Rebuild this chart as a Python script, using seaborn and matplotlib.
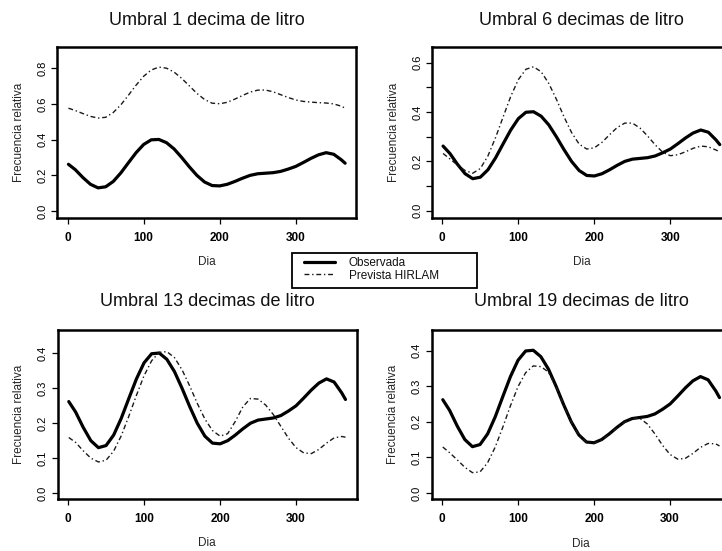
import numpy as np
import pandas as pd
import seaborn as sns
import matplotlib.pyplot as plt
import matplotlib.patches as patches

# dia del anio y frecuencias relativas
dias = [1, 10, 20, 30, 40, 50, 60, 70, 80, 90, 100, 110, 120, 130, 140,
        150, 160, 170, 180, 190, 200, 210, 220, 230, 240, 250, 260, 270,
        280, 290, 300, 310, 320, 330, 340, 350, 360, 365]

observada = [0.262, 0.232, 0.188, 0.150, 0.130, 0.136, 0.166, 0.214, 0.271,
             0.327, 0.373, 0.399, 0.401, 0.383, 0.348, 0.300, 0.248, 0.200,
             0.163, 0.143, 0.141, 0.150, 0.166, 0.184, 0.200, 0.209, 0.212,
             0.215, 0.222, 0.235, 0.250, 0.272, 0.295, 0.315, 0.327, 0.318,
             0.287, 0.268]

prevista_1 = [0.576, 0.563, 0.546, 0.530, 0.521, 0.525, 0.552, 0.595, 0.649,
              0.705, 0.755, 0.790, 0.806, 0.800, 0.778, 0.743, 0.701, 0.659,
              0.625, 0.604, 0.601, 0.609, 0.627, 0.647, 0.666, 0.677, 0.678,
              0.668, 0.652, 0.636, 0.622, 0.614, 0.610, 0.607, 0.605, 0.600,
              0.587, 0.576]

prevista_6 = [0.232, 0.210, 0.185, 0.163, 0.152, 0.171, 0.222, 0.296, 0.380,
              0.463, 0.531, 0.573, 0.583, 0.563, 0.516, 0.452, 0.381, 0.317,
              0.270, 0.250, 0.255, 0.277, 0.308, 0.337, 0.355, 0.355, 0.335,
              0.303, 0.267, 0.237, 0.223, 0.227, 0.239, 0.253, 0.262, 0.259,
              0.246, 0.239]

prevista_13 = [0.159, 0.145, 0.121, 0.100, 0.089, 0.094, 0.120, 0.164, 0.220,
               0.280, 0.336, 0.379, 0.403, 0.405, 0.388, 0.353, 0.307, 0.257,
               0.212, 0.179, 0.163, 0.170, 0.205, 0.247, 0.271, 0.269, 0.252,
               0.225, 0.191, 0.157, 0.130, 0.115, 0.113, 0.125, 0.143, 0.158,
               0.162, 0.160]

prevista_19 = [0.129, 0.113, 0.093, 0.072, 0.057, 0.059, 0.085, 0.129, 0.185,
               0.245, 0.299, 0.338, 0.357, 0.355, 0.340, 0.298, 0.247, 0.200,
               0.163, 0.142, 0.139, 0.149, 0.165, 0.183, 0.199, 0.209, 0.210,
               0.194, 0.166, 0.134, 0.108, 0.095, 0.097, 0.111, 0.128, 0.139,
               0.138, 0.132]

titulos = ["Umbral 1 decima de litro", "Umbral 6 decimas de litro",
           "Umbral 13 decimas de litro", "Umbral 19 decimas de litro"]
previstas = [prevista_1, prevista_6, prevista_13, prevista_19]

xticks = [0, 100, 200, 300]
yticks = [[0.0, 0.2, 0.4, 0.6, 0.8],
          [0.0, 0.1, 0.2, 0.3, 0.4, 0.5, 0.6],
          [0.0, 0.1, 0.2, 0.3, 0.4],
          [0.0, 0.1, 0.2, 0.3, 0.4]]
ytick_labels = [["0.0", "0.2", "0.4", "0.6", "0.8"],
                ["0.0", "", "0.2", "", "0.4", "", "0.6"],
                ["0.0", "0.1", "0.2", "0.3", "0.4"],
                ["0.0", "0.1", "0.2", "0.3", "0.4"]]
ylims = [(-0.037, 0.917), (-0.028, 0.662), (-0.017, 0.467), (-0.018, 0.458)]
nombres = ["Observada", "Prevista HIRLAM"]

sns.set_theme(style="ticks")
plt.rcParams['font.family'] = ['Liberation Sans', 'DejaVu Sans']
plt.rcParams['axes.edgecolor'] = 'black'
plt.rcParams['xtick.color'] = 'black'
plt.rcParams['ytick.color'] = 'black'
plt.rcParams['text.color'] = '#111111'

fig = plt.figure(figsize=(7.22, 5.51), dpi=100)
posiciones = [[0.0794, 0.6049, 0.414, 0.3093],
              [0.5983, 0.6049, 0.414, 0.3093],
              [0.0799, 0.0944, 0.414, 0.3067],
              [0.5979, 0.0938, 0.414, 0.3073]]

axes = []
for i in range(4):
    ax = fig.add_axes(posiciones[i])
    sns.lineplot(x=dias, y=observada, ax=ax, color='black', linewidth=2.3)
    sns.lineplot(x=dias, y=previstas[i], ax=ax, color='#1a1a1a', linewidth=1.0,
                 linestyle=(0, (3.5, 2, 1, 2)))
    ax.set_xlim(-13.6, 379.6)
    ax.set_ylim(*ylims[i])
    ax.set_xticks(xticks)
    ax.set_xticklabels([str(t) for t in xticks], fontsize=8.5, fontweight='bold')
    ax.set_yticks(yticks[i])
    ax.set_yticklabels(ytick_labels[i], fontsize=8, rotation=90, va='center')
    ax.tick_params(axis='both', direction='out', length=4, width=0.9)
    ax.tick_params(axis='x', pad=6)
    ax.tick_params(axis='y', pad=3)
    for s in ax.spines.values():
        s.set_linewidth(1.8)
        s.set_color('black')
    ax.set_xlabel("Dia", fontsize=8.5, labelpad=9)
    ax.set_ylabel("Frecuencia relativa", fontsize=8.5, labelpad=9)
    pad = 16 if i < 2 else 17
    ax.set_title(titulos[i], fontsize=13, pad=pad)
    axes.append(ax)

# leyenda sin marco, con el recuadro dibujado aparte
leg = fig.legend(handles=axes[0].lines[:2], labels=nombres,
                 loc='upper left', bbox_to_anchor=(304 / 722, 1 - 257 / 551),
                 fontsize=8.5, frameon=False, borderaxespad=0, borderpad=0,
                 handlelength=2.6, handletextpad=1.2, labelspacing=0.05)
fig.patches.append(patches.Rectangle((292 / 722, 1 - 288 / 551), 185 / 722, 35 / 551,
                                     transform=fig.transFigure, fill=False,
                                     edgecolor='black', linewidth=1.3))

fig.savefig("out.png", dpi=100)
